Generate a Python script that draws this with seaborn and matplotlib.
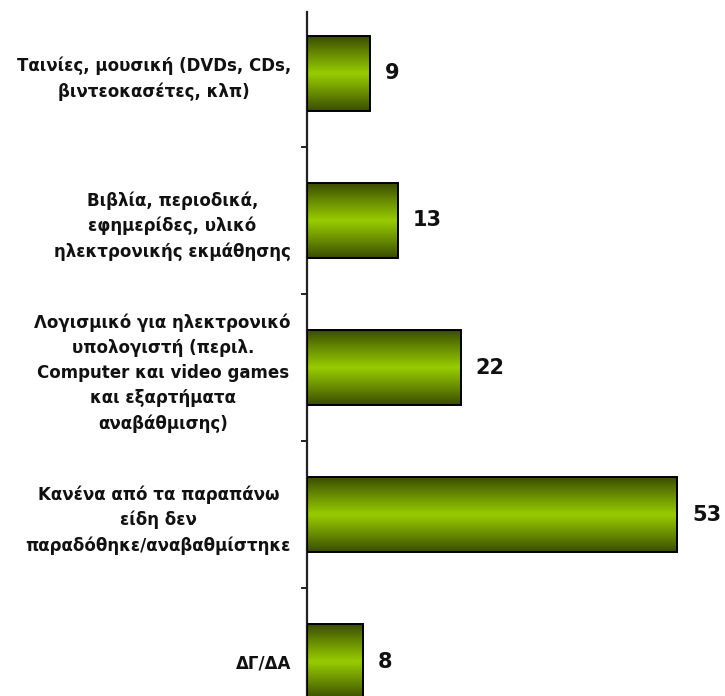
import numpy as np
import pandas as pd
import matplotlib
matplotlib.use("Agg")
import matplotlib.pyplot as plt
import seaborn as sns
from matplotlib.colors import LinearSegmentedColormap

sns.set_style("white")
plt.rcParams["font.family"] = ["DejaVu Sans"]

categories = [
    "Ταινίες, μουσική (DVDs, CDs,\nβιντεοκασέτες, κλπ)",
    "Βιβλία, περιοδικά,\nεφημερίδες, υλικό\nηλεκτρονικής εκμάθησης",
    "Λογισμικό για ηλεκτρονικό\nυπολογιστή (περιλ.\nComputer και video games\nκαι εξαρτήματα\nαναβάθμισης)",
    "Κανένα από τα παραπάνω\nείδη δεν\nπαραδόθηκε/αναβαθμίστηκε",
    "ΔΓ/ΔΑ",
]
values = [9, 13, 22, 53, 8]

df = pd.DataFrame({"category": categories, "value": values})

fig = plt.figure(figsize=(7.25, 6.96), dpi=100)
ax = fig.add_axes([0.4234, 0.0, 0.5586, 0.9828])

sns.barplot(data=df, x="value", y="category", orient="h", color="#99cc00",
            width=0.51, edgecolor="black", linewidth=1.4, ax=ax)

# vertical shading: dark olive at top and bottom edges, bright green in the middle
shade = LinearSegmentedColormap.from_list(
    "olive", ["#3a4c00", "#6a8f00", "#99cc00", "#6a8f00", "#3a4c00"])
grad = np.linspace(0, 1, 256).reshape(-1, 1)
for patch in ax.patches:
    x0, y0 = patch.get_x(), patch.get_y()
    w, h = patch.get_width(), patch.get_height()
    im = ax.imshow(grad, cmap=shade, aspect="auto", interpolation="bilinear",
                   extent=[x0, x0 + w, y0 + h, y0], zorder=2)
    im.set_clip_path(patch)
    patch.set_facecolor("none")
    patch.set_zorder(3)

ax.set_xlim(0, 58)
ax.set_ylim(4.234, -0.418)

for i, v in enumerate(values):
    ax.annotate(f"{v}", xy=(v, i), xytext=(11, 0), textcoords="offset points",
                ha="left", va="center", fontsize=15, fontweight="bold",
                color="#111111")

ax.set_xlabel("")
ax.set_ylabel("")
ax.set_xticks([])
for side in ["top", "right", "bottom"]:
    ax.spines[side].set_visible(False)
ax.spines["left"].set_color("#222222")
ax.spines["left"].set_linewidth(1.6)

ax.tick_params(axis="y", which="major", length=0, pad=11.5)
ax.set_yticks([0.5, 1.5, 2.5, 3.5], minor=True)
ax.tick_params(axis="y", which="minor", left=True, length=4, width=1.4,
               color="#222222", direction="out")
for lab in ax.get_yticklabels():
    lab.set_fontsize(12)
    lab.set_fontweight("bold")
    lab.set_multialignment("center")
    lab.set_linespacing(1.5)
    lab.set_color("#111111")

fig.savefig("out.png", dpi=100, facecolor="white")
